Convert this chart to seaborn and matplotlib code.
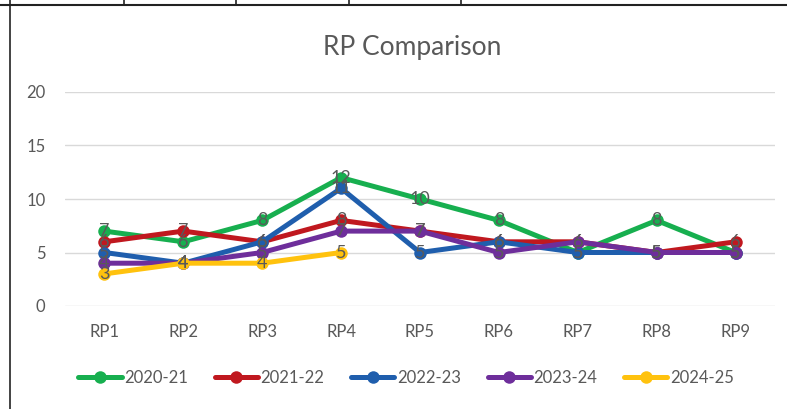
import matplotlib
matplotlib.use("Agg")
import matplotlib.pyplot as plt
from matplotlib.lines import Line2D
import seaborn as sns
import pandas as pd

rps = ["RP1", "RP2", "RP3", "RP4", "RP5", "RP6", "RP7", "RP8", "RP9"]
seasons = ["2020-21", "2021-22", "2022-23", "2023-24", "2024-25"]
s2020 = [7, 6, 8, 12, 10, 8, 5, 8, 5]
s2021 = [6, 7, 6, 8, 7, 6, 6, 5, 6]
s2022 = [5, 4, 6, 11, 5, 6, 5, 5, 5]
s2023 = [4, 4, 5, 7, 7, 5, 6, 5, 5]
s2024 = [3, 4, 4, 5]
colors = ["#17AF4F", "#C0181F", "#1F5EAD", "#6E2E9B", "#FFC20E"]

rows = []
for name, vals in zip(seasons, [s2020, s2021, s2022, s2023, s2024]):
    for rp, v in zip(rps, vals):
        rows.append({"RP": rp, "season": name, "value": v})
df = pd.DataFrame(rows)

sns.set_style("white")
plt.rcParams["font.family"] = ["Lato", "DejaVu Sans"]
grey = "#595959"

fig = plt.figure(figsize=(7.87, 4.09), dpi=100)
ax = fig.add_axes([65 / 787, 103 / 409, 710 / 787, 214 / 409])

sns.lineplot(data=df, x="RP", y="value", hue="season", hue_order=seasons,
             palette=colors, marker="o", markersize=9, markeredgewidth=0,
             linewidth=3.6, sort=False, ax=ax, legend=True)

# data labels on top of everything
for name, vals in zip(seasons, [s2020, s2021, s2022, s2023, s2024]):
    for i, v in enumerate(vals):
        ax.text(i, v, str(v), ha="center", va="center", fontsize=13,
                color=grey, zorder=10)

ax.set_ylim(0, 20)
ax.set_xlim(-0.5, 8.5)
ax.set_yticks([0, 5, 10, 15, 20])
ax.yaxis.grid(True, color="#D9D9D9", linewidth=1)
ax.set_axisbelow(True)
for sp in ax.spines.values():
    sp.set_visible(False)
ax.tick_params(axis="both", length=0, labelsize=12, labelcolor=grey)
ax.tick_params(axis="y", pad=14)
ax.tick_params(axis="x", pad=13)
ax.set_xlabel("")
ax.set_ylabel("")

handles, labels = ax.get_legend_handles_labels()
ax.legend(handles, labels, loc="center", bbox_to_anchor=(406 / 787, 1 - 378 / 409),
          bbox_transform=fig.transFigure, ncol=5, frameon=False, fontsize=12,
          labelcolor=grey, handlelength=2.6, handletextpad=0.15, columnspacing=1.6,
          borderaxespad=0)

fig.text(412 / 787, 1 - 47 / 409, "RP Comparison", ha="center", va="center",
         fontsize=19, color=grey)

# spreadsheet cell borders around the chart
fig.add_artist(Line2D([0, 1], [1 - 5 / 409, 1 - 5 / 409], color="#222222", lw=1.5))
fig.add_artist(Line2D([10 / 787, 10 / 787], [0, 1], color="#222222", lw=1.2))
for xp in [124, 236, 349, 461]:
    fig.add_artist(Line2D([xp / 787, xp / 787], [1 - 5 / 409, 1], color="#222222", lw=1.2))

fig.savefig("out.png", dpi=100)
